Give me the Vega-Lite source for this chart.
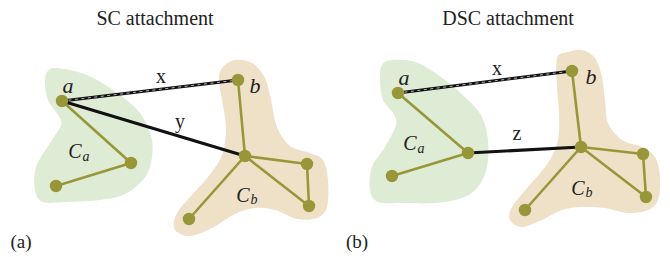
{
  "$schema": "https://vega.github.io/schema/vega-lite/v6.json",
  "width": 670,
  "height": 257,
  "padding": 0,
  "autosize": {"type": "fit", "contains": "padding"},
  "config": {"view": {"stroke": null}},
  "datasets": {
    "blobs": [
      {"blob": "La", "kind": "green", "ord": 1, "x": 47, "y": 72},
      {"blob": "La", "kind": "green", "ord": 2, "x": 57, "y": 68},
      {"blob": "La", "kind": "green", "ord": 3, "x": 87, "y": 75},
      {"blob": "La", "kind": "green", "ord": 4, "x": 117, "y": 93},
      {"blob": "La", "kind": "green", "ord": 5, "x": 140, "y": 113},
      {"blob": "La", "kind": "green", "ord": 6, "x": 152, "y": 140},
      {"blob": "La", "kind": "green", "ord": 7, "x": 150, "y": 167},
      {"blob": "La", "kind": "green", "ord": 8, "x": 140, "y": 183},
      {"blob": "La", "kind": "green", "ord": 9, "x": 123, "y": 195},
      {"blob": "La", "kind": "green", "ord": 10, "x": 100, "y": 200},
      {"blob": "La", "kind": "green", "ord": 11, "x": 67, "y": 202},
      {"blob": "La", "kind": "green", "ord": 12, "x": 43, "y": 202},
      {"blob": "La", "kind": "green", "ord": 13, "x": 35, "y": 190},
      {"blob": "La", "kind": "green", "ord": 14, "x": 36, "y": 167},
      {"blob": "La", "kind": "green", "ord": 15, "x": 50, "y": 143},
      {"blob": "La", "kind": "green", "ord": 16, "x": 61, "y": 125},
      {"blob": "La", "kind": "green", "ord": 17, "x": 58, "y": 115},
      {"blob": "La", "kind": "green", "ord": 18, "x": 48, "y": 100},
      {"blob": "La", "kind": "green", "ord": 19, "x": 45, "y": 83},
      {"blob": "Lb", "kind": "tan", "ord": 1, "x": 222, "y": 68},
      {"blob": "Lb", "kind": "tan", "ord": 2, "x": 235, "y": 60},
      {"blob": "Lb", "kind": "tan", "ord": 3, "x": 252, "y": 63},
      {"blob": "Lb", "kind": "tan", "ord": 4, "x": 265, "y": 78},
      {"blob": "Lb", "kind": "tan", "ord": 5, "x": 271, "y": 100},
      {"blob": "Lb", "kind": "tan", "ord": 6, "x": 277, "y": 127},
      {"blob": "Lb", "kind": "tan", "ord": 7, "x": 290, "y": 146},
      {"blob": "Lb", "kind": "tan", "ord": 8, "x": 310, "y": 153},
      {"blob": "Lb", "kind": "tan", "ord": 9, "x": 323, "y": 160},
      {"blob": "Lb", "kind": "tan", "ord": 10, "x": 328, "y": 180},
      {"blob": "Lb", "kind": "tan", "ord": 11, "x": 327, "y": 207},
      {"blob": "Lb", "kind": "tan", "ord": 12, "x": 317, "y": 218},
      {"blob": "Lb", "kind": "tan", "ord": 13, "x": 297, "y": 219},
      {"blob": "Lb", "kind": "tan", "ord": 14, "x": 275, "y": 210},
      {"blob": "Lb", "kind": "tan", "ord": 15, "x": 255, "y": 208},
      {"blob": "Lb", "kind": "tan", "ord": 16, "x": 235, "y": 214},
      {"blob": "Lb", "kind": "tan", "ord": 17, "x": 212, "y": 228},
      {"blob": "Lb", "kind": "tan", "ord": 18, "x": 190, "y": 236},
      {"blob": "Lb", "kind": "tan", "ord": 19, "x": 175, "y": 230},
      {"blob": "Lb", "kind": "tan", "ord": 20, "x": 176, "y": 215},
      {"blob": "Lb", "kind": "tan", "ord": 21, "x": 190, "y": 197},
      {"blob": "Lb", "kind": "tan", "ord": 22, "x": 208, "y": 177},
      {"blob": "Lb", "kind": "tan", "ord": 23, "x": 222, "y": 155},
      {"blob": "Lb", "kind": "tan", "ord": 24, "x": 226, "y": 128},
      {"blob": "Lb", "kind": "tan", "ord": 25, "x": 222, "y": 100},
      {"blob": "Lb", "kind": "tan", "ord": 26, "x": 219, "y": 80},
      {"blob": "Ra", "kind": "green", "ord": 1, "x": 382, "y": 65},
      {"blob": "Ra", "kind": "green", "ord": 2, "x": 393, "y": 60},
      {"blob": "Ra", "kind": "green", "ord": 3, "x": 418, "y": 63},
      {"blob": "Ra", "kind": "green", "ord": 4, "x": 445, "y": 80},
      {"blob": "Ra", "kind": "green", "ord": 5, "x": 468, "y": 100},
      {"blob": "Ra", "kind": "green", "ord": 6, "x": 482, "y": 117},
      {"blob": "Ra", "kind": "green", "ord": 7, "x": 488, "y": 140},
      {"blob": "Ra", "kind": "green", "ord": 8, "x": 487, "y": 167},
      {"blob": "Ra", "kind": "green", "ord": 9, "x": 478, "y": 187},
      {"blob": "Ra", "kind": "green", "ord": 10, "x": 462, "y": 198},
      {"blob": "Ra", "kind": "green", "ord": 11, "x": 435, "y": 203},
      {"blob": "Ra", "kind": "green", "ord": 12, "x": 402, "y": 203},
      {"blob": "Ra", "kind": "green", "ord": 13, "x": 378, "y": 202},
      {"blob": "Ra", "kind": "green", "ord": 14, "x": 370, "y": 190},
      {"blob": "Ra", "kind": "green", "ord": 15, "x": 372, "y": 167},
      {"blob": "Ra", "kind": "green", "ord": 16, "x": 385, "y": 147},
      {"blob": "Ra", "kind": "green", "ord": 17, "x": 396, "y": 125},
      {"blob": "Ra", "kind": "green", "ord": 18, "x": 393, "y": 113},
      {"blob": "Ra", "kind": "green", "ord": 19, "x": 383, "y": 100},
      {"blob": "Ra", "kind": "green", "ord": 20, "x": 380, "y": 80},
      {"blob": "Rb", "kind": "tan", "ord": 1, "x": 557, "y": 58},
      {"blob": "Rb", "kind": "tan", "ord": 2, "x": 568, "y": 52},
      {"blob": "Rb", "kind": "tan", "ord": 3, "x": 582, "y": 50},
      {"blob": "Rb", "kind": "tan", "ord": 4, "x": 595, "y": 58},
      {"blob": "Rb", "kind": "tan", "ord": 5, "x": 602, "y": 77},
      {"blob": "Rb", "kind": "tan", "ord": 6, "x": 605, "y": 100},
      {"blob": "Rb", "kind": "tan", "ord": 7, "x": 608, "y": 123},
      {"blob": "Rb", "kind": "tan", "ord": 8, "x": 622, "y": 140},
      {"blob": "Rb", "kind": "tan", "ord": 9, "x": 642, "y": 147},
      {"blob": "Rb", "kind": "tan", "ord": 10, "x": 655, "y": 157},
      {"blob": "Rb", "kind": "tan", "ord": 11, "x": 660, "y": 177},
      {"blob": "Rb", "kind": "tan", "ord": 12, "x": 658, "y": 200},
      {"blob": "Rb", "kind": "tan", "ord": 13, "x": 648, "y": 210},
      {"blob": "Rb", "kind": "tan", "ord": 14, "x": 628, "y": 213},
      {"blob": "Rb", "kind": "tan", "ord": 15, "x": 605, "y": 208},
      {"blob": "Rb", "kind": "tan", "ord": 16, "x": 582, "y": 207},
      {"blob": "Rb", "kind": "tan", "ord": 17, "x": 562, "y": 210},
      {"blob": "Rb", "kind": "tan", "ord": 18, "x": 542, "y": 220},
      {"blob": "Rb", "kind": "tan", "ord": 19, "x": 522, "y": 227},
      {"blob": "Rb", "kind": "tan", "ord": 20, "x": 510, "y": 220},
      {"blob": "Rb", "kind": "tan", "ord": 21, "x": 512, "y": 207},
      {"blob": "Rb", "kind": "tan", "ord": 22, "x": 528, "y": 187},
      {"blob": "Rb", "kind": "tan", "ord": 23, "x": 548, "y": 163},
      {"blob": "Rb", "kind": "tan", "ord": 24, "x": 558, "y": 140},
      {"blob": "Rb", "kind": "tan", "ord": 25, "x": 559, "y": 113},
      {"blob": "Rb", "kind": "tan", "ord": 26, "x": 557, "y": 87}
    ],
    "edges": [
      {"kind": "olive", "x": 62, "y": 101, "x2": 131, "y2": 163},
      {"kind": "olive", "x": 131, "y": 163, "x2": 56, "y2": 186},
      {"kind": "olive", "x": 238, "y": 80, "x2": 245, "y2": 156},
      {"kind": "olive", "x": 245, "y": 156, "x2": 307, "y2": 164},
      {"kind": "olive", "x": 307, "y": 164, "x2": 309, "y2": 206},
      {"kind": "olive", "x": 245, "y": 156, "x2": 309, "y2": 206},
      {"kind": "olive", "x": 245, "y": 156, "x2": 189, "y2": 219},
      {"kind": "solid", "x": 62, "y": 101, "x2": 245, "y2": 156},
      {"kind": "dashed", "x": 62, "y": 101, "x2": 238, "y2": 80},
      {"kind": "olive", "x": 398, "y": 93, "x2": 468, "y2": 153},
      {"kind": "olive", "x": 468, "y": 153, "x2": 392, "y2": 176},
      {"kind": "olive", "x": 572, "y": 71, "x2": 581, "y2": 147},
      {"kind": "olive", "x": 581, "y": 147, "x2": 643, "y2": 154},
      {"kind": "olive", "x": 643, "y": 154, "x2": 646, "y2": 197},
      {"kind": "olive", "x": 581, "y": 147, "x2": 646, "y2": 197},
      {"kind": "olive", "x": 581, "y": 147, "x2": 525, "y2": 210},
      {"kind": "solid", "x": 468, "y": 153, "x2": 581, "y2": 147},
      {"kind": "dashed", "x": 398, "y": 93, "x2": 572, "y2": 71}
    ],
    "nodes": [
      {"x": 62, "y": 101}, {"x": 131, "y": 163}, {"x": 56, "y": 186},
      {"x": 238, "y": 80}, {"x": 245, "y": 156}, {"x": 307, "y": 164},
      {"x": 309, "y": 206}, {"x": 189, "y": 219},
      {"x": 398, "y": 93}, {"x": 468, "y": 153}, {"x": 392, "y": 176},
      {"x": 572, "y": 71}, {"x": 581, "y": 147}, {"x": 643, "y": 154},
      {"x": 646, "y": 197}, {"x": 525, "y": 210}
    ],
    "texts": [
      {"role": "title", "label": "SC attachment", "x": 155, "y": 25},
      {"role": "title", "label": "DSC attachment", "x": 508, "y": 25},
      {"role": "panel", "label": "(a)", "x": 21, "y": 248},
      {"role": "panel", "label": "(b)", "x": 357, "y": 248},
      {"role": "node", "label": "a", "x": 68, "y": 93},
      {"role": "node", "label": "b", "x": 255, "y": 93},
      {"role": "node", "label": "a", "x": 404, "y": 85},
      {"role": "node", "label": "b", "x": 591, "y": 84},
      {"role": "edge", "label": "x", "x": 161, "y": 83},
      {"role": "edge", "label": "y", "x": 180, "y": 128},
      {"role": "edge", "label": "x", "x": 497, "y": 75},
      {"role": "edge", "label": "z", "x": 517, "y": 140},
      {"role": "C", "label": "C", "x": 75, "y": 158},
      {"role": "C", "label": "C", "x": 243, "y": 202},
      {"role": "C", "label": "C", "x": 410, "y": 150},
      {"role": "C", "label": "C", "x": 578, "y": 195},
      {"role": "sub", "label": "a", "x": 86, "y": 161},
      {"role": "sub", "label": "b", "x": 254, "y": 204},
      {"role": "sub", "label": "a", "x": 421, "y": 153},
      {"role": "sub", "label": "b", "x": 589, "y": 197}
    ]
  },
  "layer": [
    {
      "data": {"name": "blobs"},
      "mark": {"type": "line", "interpolate": "cardinal-closed", "strokeWidth": 0},
      "encoding": {
        "x": {"field": "x", "type": "quantitative", "scale": {"domain": [0, 670], "nice": false, "zero": false}, "axis": null},
        "y": {"field": "y", "type": "quantitative", "scale": {"domain": [0, 257], "nice": false, "zero": false, "reverse": true}, "axis": null},
        "detail": {"field": "blob"},
        "order": {"field": "ord", "type": "quantitative"},
        "fill": {"field": "kind", "type": "nominal", "scale": {"domain": ["green", "tan"], "range": ["#dfecd5", "#efe1c8"]}, "legend": null}
      }
    },
    {
      "data": {"name": "edges"},
      "transform": [{"filter": "datum.kind == 'olive'"}],
      "mark": {"type": "rule", "color": "#97973a", "strokeWidth": 2.6},
      "encoding": {
        "x": {"field": "x", "type": "quantitative"},
        "y": {"field": "y", "type": "quantitative"},
        "x2": {"field": "x2"},
        "y2": {"field": "y2"}
      }
    },
    {
      "data": {"name": "edges"},
      "transform": [{"filter": "datum.kind != 'olive'"}],
      "mark": {"type": "rule", "color": "#111111", "strokeWidth": 3},
      "encoding": {
        "x": {"field": "x", "type": "quantitative"},
        "y": {"field": "y", "type": "quantitative"},
        "x2": {"field": "x2"},
        "y2": {"field": "y2"}
      }
    },
    {
      "data": {"name": "edges"},
      "transform": [{"filter": "datum.kind == 'dashed'"}],
      "mark": {"type": "rule", "color": "#b5b5b5", "strokeWidth": 1, "strokeDash": [3, 3.5]},
      "encoding": {
        "x": {"field": "x", "type": "quantitative"},
        "y": {"field": "y", "type": "quantitative"},
        "x2": {"field": "x2"},
        "y2": {"field": "y2"}
      }
    },
    {
      "data": {"name": "nodes"},
      "mark": {"type": "point", "filled": true, "opacity": 1, "color": "#97973a", "size": 155},
      "encoding": {
        "x": {"field": "x", "type": "quantitative"},
        "y": {"field": "y", "type": "quantitative"}
      }
    },
    {
      "data": {"name": "texts"},
      "transform": [{"filter": "datum.role == 'title'"}],
      "mark": {"type": "text", "font": "Liberation Serif", "fontSize": 20, "align": "center", "baseline": "alphabetic", "color": "#222222"},
      "encoding": {
        "x": {"field": "x", "type": "quantitative"},
        "y": {"field": "y", "type": "quantitative"},
        "text": {"field": "label"}
      }
    },
    {
      "data": {"name": "texts"},
      "transform": [{"filter": "datum.role == 'panel'"}],
      "mark": {"type": "text", "font": "Liberation Serif", "fontSize": 19, "align": "center", "baseline": "alphabetic", "color": "#222222"},
      "encoding": {
        "x": {"field": "x", "type": "quantitative"},
        "y": {"field": "y", "type": "quantitative"},
        "text": {"field": "label"}
      }
    },
    {
      "data": {"name": "texts"},
      "transform": [{"filter": "datum.role == 'node'"}],
      "mark": {"type": "text", "font": "Liberation Serif", "fontStyle": "italic", "fontSize": 22, "align": "center", "baseline": "alphabetic", "color": "#222222"},
      "encoding": {
        "x": {"field": "x", "type": "quantitative"},
        "y": {"field": "y", "type": "quantitative"},
        "text": {"field": "label"}
      }
    },
    {
      "data": {"name": "texts"},
      "transform": [{"filter": "datum.role == 'edge'"}],
      "mark": {"type": "text", "font": "Liberation Serif", "fontSize": 20, "align": "center", "baseline": "alphabetic", "color": "#222222"},
      "encoding": {
        "x": {"field": "x", "type": "quantitative"},
        "y": {"field": "y", "type": "quantitative"},
        "text": {"field": "label"}
      }
    },
    {
      "data": {"name": "texts"},
      "transform": [{"filter": "datum.role == 'C'"}],
      "mark": {"type": "text", "font": "Liberation Serif", "fontStyle": "italic", "fontSize": 20, "align": "center", "baseline": "alphabetic", "color": "#222222"},
      "encoding": {
        "x": {"field": "x", "type": "quantitative"},
        "y": {"field": "y", "type": "quantitative"},
        "text": {"field": "label"}
      }
    },
    {
      "data": {"name": "texts"},
      "transform": [{"filter": "datum.role == 'sub'"}],
      "mark": {"type": "text", "font": "Liberation Serif", "fontStyle": "italic", "fontSize": 14, "align": "center", "baseline": "alphabetic", "color": "#222222"},
      "encoding": {
        "x": {"field": "x", "type": "quantitative"},
        "y": {"field": "y", "type": "quantitative"},
        "text": {"field": "label"}
      }
    }
  ]
}
